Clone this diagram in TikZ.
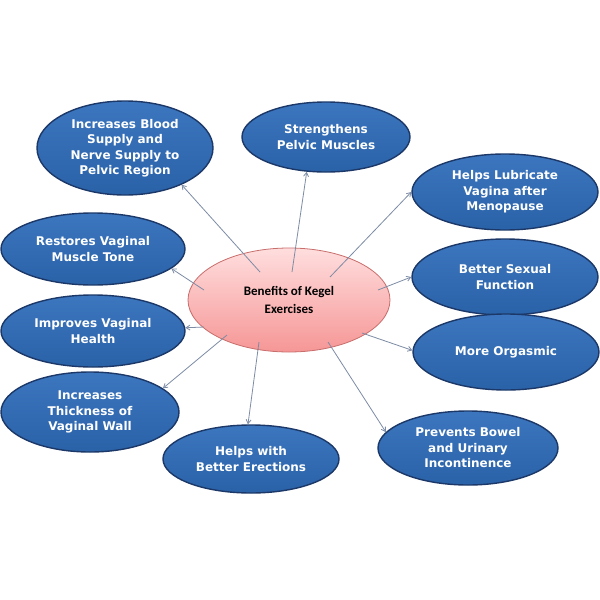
\documentclass[tikz,border=0pt]{standalone}
\usepackage{fontspec}
\setmainfont{DejaVu Sans}
\newfontfamily\calib{Carlito}
\usetikzlibrary{shapes.geometric,arrows.meta}
\definecolor{bluefillT}{RGB}{60,118,190}
\definecolor{bluefillB}{RGB}{42,98,168}
\definecolor{blueline}{RGB}{28,56,104}
\definecolor{pinkT}{RGB}{255,222,222}
\definecolor{pinkB}{RGB}{246,150,150}
\definecolor{pinkline}{RGB}{200,110,108}
\definecolor{arrowc}{RGB}{125,140,165}
\tikzset{
  benefit/.style={ellipse, draw=blueline, line width=1.4pt, top color=bluefillT, bottom color=bluefillB,
    text=white, inner sep=0pt, align=center, font=\bfseries\fontsize{12}{15.5}\selectfont},
  hub/.style={ellipse, draw=pinkline, line width=0.8pt, top color=pinkT, bottom color=pinkB,
    text=black, inner sep=0pt, align=center, font=\calib\bfseries\fontsize{13}{18}\selectfont},
  link/.style={draw=arrowc, line width=0.8pt, -{Straight Barb[length=4pt,width=5pt]}}
}
\begin{document}
\begin{tikzpicture}[x=1pt,y=-1pt]
\useasboundingbox[fill=white] (0,0) rectangle (600,600);
% outer nodes
\node[benefit, minimum width=176pt, minimum height=94pt] (n1) at (125,148) {Increases Blood\\Supply and\\Nerve Supply to\\Pelvic Region};
\node[benefit, minimum width=168pt, minimum height=70pt] (n2) at (326,137) {Strengthens\\Pelvic Muscles};
\node[benefit, minimum width=186pt, minimum height=76pt] (n3) at (505,192) {Helps Lubricate\\Vagina after\\Menopause};
\node[benefit, minimum width=184pt, minimum height=72pt] (n4) at (93,249) {Restores Vaginal\\Muscle Tone};
\node[benefit, minimum width=184pt, minimum height=72pt] (n5) at (93,331) {Improves Vaginal\\Health};
\node[benefit, minimum width=178pt, minimum height=80pt] (n6) at (90,412) {Increases\\Thickness of\\Vaginal Wall};
\node[benefit, minimum width=186pt, minimum height=76pt] (n7) at (505,277) {Better Sexual\\Function};
\node[benefit, minimum width=186pt, minimum height=76pt] (n8) at (506,352) {More Orgasmic};
\node[benefit, minimum width=176pt, minimum height=68pt] (n9) at (251,459) {Helps with\\Better Erections};
\node[benefit, minimum width=180pt, minimum height=74pt] (n10) at (468,448) {Prevents Bowel\\and Urinary\\Incontinence};
% hub
\node[hub, minimum width=202pt, minimum height=104pt] (c) at (289,300) {Benefits of Kegel\\Exercises};
% start points inside hub
\coordinate (s1) at (260,272);
\coordinate (s2) at (292,272);
\coordinate (s3) at (330,277);
\coordinate (s4) at (204,290);
\coordinate (s5) at (204,327);
\coordinate (s6) at (227,335);
\coordinate (s7) at (378,290);
\coordinate (s8) at (362,333);
\coordinate (s9) at (259,342);
\coordinate (s10) at (328,342);
% connectors
\draw[link] (s1) -- (n1.-33);
\draw[link] (s2) -- (n2.-119);
\draw[link] (s3) -- (n3.180);
\draw[link] (s4) -- (n4.-14);
\draw[link] (s5) -- (n5.2);
\draw[link] (s6) -- (n6.18);
\draw[link] (s7) -- (n7.180);
\draw[link] (s8) -- (n8.179);
\draw[link] (s9) -- (n9.95);
\draw[link] (s10) -- (n10.169);
\end{tikzpicture}
\end{document}
